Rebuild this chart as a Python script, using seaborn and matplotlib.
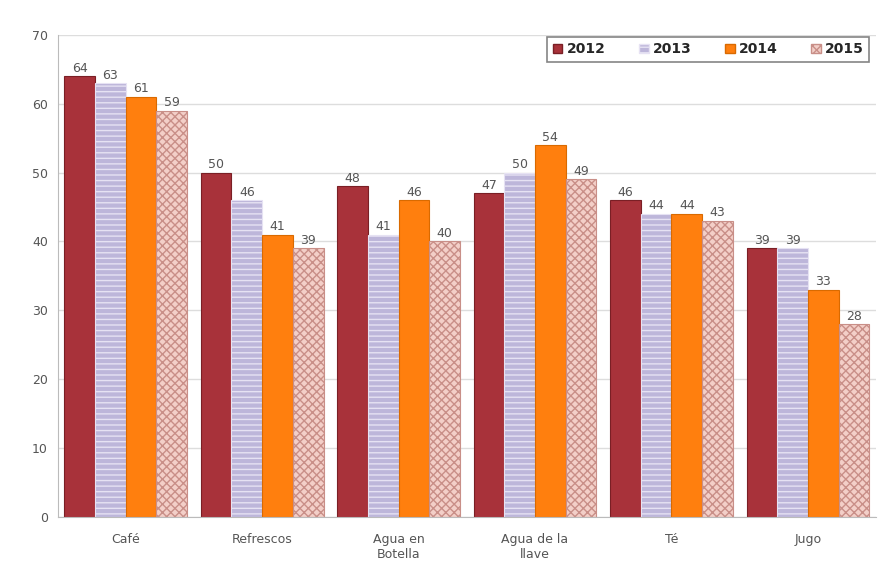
import numpy as np
import pandas as pd
import matplotlib
matplotlib.use("Agg")
import matplotlib.pyplot as plt
import seaborn as sns

categories = ["Café", "Refrescos", "Agua en\nBotella", "Agua de la\nllave", "Té", "Jugo"]
years = ["2012", "2013", "2014", "2015"]
v2012 = [64, 50, 48, 47, 46, 39]
v2013 = [63, 46, 41, 50, 44, 39]
v2014 = [61, 41, 46, 54, 44, 33]
v2015 = [59, 39, 40, 49, 43, 28]

colors = ["#A8323A", "#BDB6DA", "#FF7F0E", "#F3CFC8"]
hatches = ["", "---", "", "xxxx"]
edges = ["#7A1F25", "#E6E2F3", "#D96A00", "#C98F88"]

df = pd.DataFrame({
    "cat": categories * 4,
    "year": [y for y in years for _ in categories],
    "val": v2012 + v2013 + v2014 + v2015,
})

sns.set_style("white")
fig, ax = plt.subplots(figsize=(8.85, 5.79), dpi=100)
fig.subplots_adjust(left=0.065, right=0.99, top=0.94, bottom=0.107)

sns.barplot(data=df, x="cat", y="val", hue="year", palette=colors,
            width=0.9, ax=ax, saturation=1, legend=False)

for i, cont in enumerate(ax.containers):
    for bar in cont:
        bar.set_hatch(hatches[i])
        bar.set_edgecolor(edges[i])
        bar.set_linewidth(0.8)
    ax.bar_label(cont, fmt="%d", fontsize=9, color="#555555", padding=1)

ax.set_ylim(0, 70)
ax.set_yticks(range(0, 71, 10))
ax.yaxis.grid(True, color="#DDDDDD", linewidth=1)
ax.set_axisbelow(True)
ax.set_xlabel("")
ax.set_ylabel("")
ax.tick_params(axis="both", labelsize=9, colors="#555555")
ax.tick_params(axis="x", pad=8)
for s in ["top", "right"]:
    ax.spines[s].set_visible(False)
ax.spines["left"].set_color("#BBBBBB")
ax.spines["bottom"].set_color("#BBBBBB")

handles = [plt.Rectangle((0, 0), 1, 1, facecolor=colors[i], hatch=hatches[i],
                         edgecolor=edges[i]) for i in range(4)]
leg = ax.legend(handles, years, loc="upper right", ncol=4, frameon=True,
                fancybox=False, handlelength=0.7, handleheight=0.7,
                columnspacing=2.4, handletextpad=0.3,
                prop={"weight": "bold", "size": 10}, bbox_to_anchor=(1.0, 1.01))
leg.get_frame().set_edgecolor("#666666")
leg.get_frame().set_linewidth(1.2)

fig.savefig("out.png", dpi=100)
